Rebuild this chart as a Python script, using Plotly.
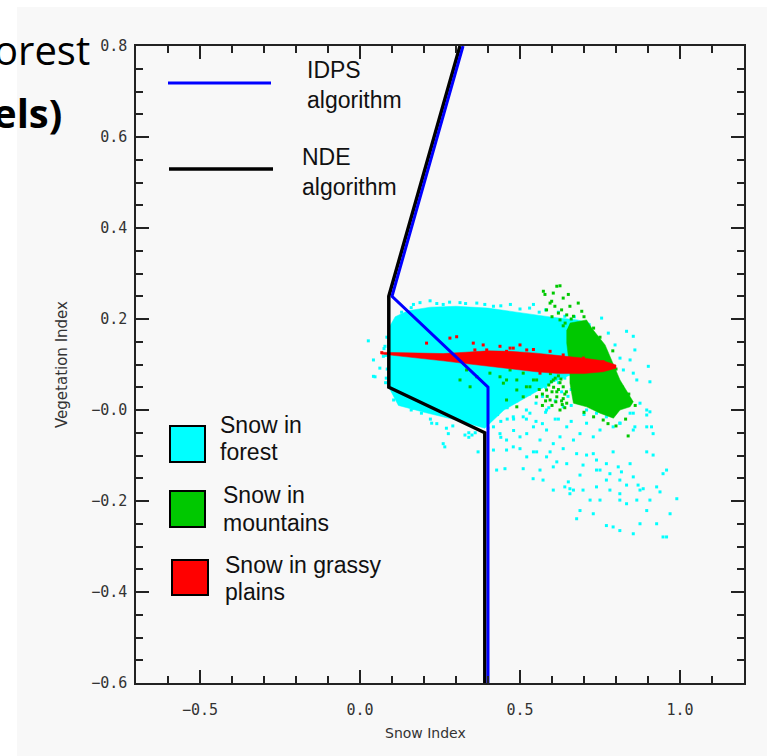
import plotly.graph_objects as go

# ---------------- data ----------------
x_tickvals = [-0.5, 0.0, 0.5, 1.0]
x_ticktext = ["\u22120.5", "0.0", "0.5", "1.0"]
y_tickvals = [0.8, 0.6, 0.4, 0.2, 0.0, -0.2, -0.4, -0.6]
y_ticktext = ["0.8", "0.6", "0.4", "0.2", "\u22120.0", "\u22120.2", "\u22120.4", "\u22120.6"]

# threshold lines
nde_x = [0.39, 0.39, 0.09, 0.09, 0.3125]
nde_y = [-0.6, -0.05, 0.05, 0.25, 0.8]
idps_x = [0.40, 0.40, 0.10, 0.322]
idps_y = [-0.6, 0.05, 0.25, 0.8]

# Snow in forest: dense core outline + scattered points
forest_core_x = [0.09, 0.11, 0.15, 0.22, 0.30, 0.40, 0.50, 0.60, 0.68, 0.72,
                 0.72, 0.65, 0.60, 0.55, 0.50, 0.45, 0.39, 0.30, 0.20, 0.12, 0.09]
forest_core_y = [0.18, 0.205, 0.218, 0.226, 0.228, 0.224, 0.214, 0.204, 0.198, 0.19,
                 0.09, 0.075, 0.06, 0.04, 0.02, 0.0, -0.04, -0.022, -0.005, 0.01, 0.05]
forest_x = [0.105, 0.130, 0.166, 0.192, 0.224, 0.260, 0.265, 0.276, 0.328, 0.369,
            0.427, 0.453, 0.510, 0.541, 0.572, 0.604, 0.640, 0.651, 0.656, 0.667,
            0.6875, 0.697, 0.708, 0.729, 0.739, 0.750, 0.770, 0.781, 0.791, 0.807,
            0.817, 0.844, 0.854, 0.869, 0.875, 0.896, 0.916, 0.927, 0.9375, 0.947,
            0.958, 0.990, 0.969, 0.927, 0.947, 0.958, 0.875, 0.854, 0.812, 0.791,
            0.770, 0.729, 0.719, 0.6875, 0.677, 0.750, 0.812, 0.833, 0.865, 0.906,
            0.896, 0.781, 0.739, 0.656, 0.604, 0.5625, 0.521, 0.542, 0.583, 0.615,
            0.646, 0.697, 0.739, 0.770, 0.812, 0.833, 0.885, 0.812,
            0.417, 0.4375, 0.458, 0.479, 0.500, 0.521, 0.542, 0.5625, 0.583, 0.604,
            0.625, 0.646, 0.667, 0.6875, 0.708, 0.729, 0.750, 0.791, 0.812, 0.854,
            0.896, 0.916, 0.417, 0.458, 0.500, 0.552, 0.594, 0.635, 0.677, 0.4375,
            0.479, 0.531, 0.583, 0.635, 0.6875, 0.708, 0.739, 0.770, 0.854, 0.896, 0.906,
            0.755, 0.776, 0.797, 0.8125, 0.833, 0.854, 0.859, 0.854, 0.865, 0.901,
            0.906, 0.844, 0.823, 0.875, 0.896, 0.844, 0.8125, 0.911, 0.859, 0.781,
            0.026, 0.042, 0.062, 0.042, 0.073, 0.047, 0.075, 0.080,
            0.167, 0.1875, 0.219, 0.260, 0.3125, 0.365, 0.417, 0.542, 0.47, 0.58, 0.62,
            0.36, 0.40, 0.44, 0.48, 0.52, 0.57, 0.61, 0.66, 0.70, 0.34, 0.46, 0.55,
            0.42, 0.44, 0.47, 0.49, 0.51, 0.53, 0.56, 0.58, 0.60, 0.62, 0.64, 0.66,
            0.43, 0.46, 0.48, 0.50, 0.52, 0.55, 0.57, 0.59, 0.61, 0.63, 0.65, 0.68,
            0.41, 0.45, 0.49, 0.53, 0.56, 0.60, 0.64, 0.67, 0.70, 0.72, 0.44, 0.51,
            0.58, 0.62, 0.66, 0.69, 0.47, 0.54,
            0.13, 0.16, 0.24, 0.28, 0.33, 0.39, 0.44, 0.50, 0.53, 0.56, 0.64, 0.67,
            0.084, 0.080, 0.085, 0.078, 0.082, 0.24, 0.29, 0.34, 0.22, 0.16, 0.35, 0.27]
forest_y = [0.022, 0.018, 0.004, -0.007, -0.029, -0.074, -0.081, -0.052, -0.055, -0.092,
            -0.132, -0.129, -0.129, -0.151, -0.154, -0.176, -0.169, -0.158, -0.173, -0.176,
            -0.143, -0.176, -0.099, -0.096, -0.110, -0.132, -0.118, -0.140, -0.092, -0.125,
            -0.136, -0.118, -0.147, -0.165, -0.176, -0.092, -0.099, -0.169, -0.180, -0.140,
            -0.132, -0.195, -0.228, -0.250, -0.279, -0.279, -0.250, -0.272, -0.265, -0.257,
            -0.254, -0.228, -0.198, -0.221, -0.239, -0.198, -0.198, -0.206, -0.198, -0.198,
            -0.221, -0.176, -0.169, -0.184, -0.125, -0.132, -0.103, -0.092, -0.103, -0.114,
            -0.118, -0.121, -0.132, -0.154, -0.154, -0.165, -0.173, -0.184,
            -0.037, -0.052, -0.066, -0.081, -0.059, -0.052, -0.037, -0.066, -0.044, -0.074,
            -0.059, -0.037, -0.066, -0.052, -0.029, -0.059, -0.044, -0.037, -0.029, -0.044,
            -0.037, -0.052, -0.088, -0.088, -0.085, -0.092, -0.092, -0.085, -0.096, 0.000,
            -0.015, -0.007, 0.000, 0.007, 0.015, 0.000, -0.007, -0.015, -0.007, -0.011, -0.004,
            0.202, 0.169, 0.143, 0.114, 0.173, 0.162, 0.132, 0.081, 0.066, 0.096,
            0.062, 0.110, 0.088, 0.015, 0.000, -0.007, -0.029, -0.037, -0.037, 0.000,
            0.152, 0.110, 0.092, 0.074, 0.118, 0.073, 0.135, 0.060,
            0.232, 0.236, 0.240, 0.232, 0.236, 0.235, 0.228, 0.232, 0.232, 0.220, 0.215,
            -0.05, -0.04, -0.06, -0.045, -0.02, -0.03, -0.02, -0.025, -0.01, -0.06, -0.02, -0.025,
            0.01, 0.03, 0.05, 0.02, 0.06, 0.035, 0.07, 0.05, 0.075, 0.06, 0.08, 0.045,
            -0.01, 0.005, -0.02, 0.035, 0.0, 0.015, 0.03, 0.005, 0.02, 0.04, 0.03, 0.06,
            0.045, 0.06, 0.075, 0.07, 0.055, 0.065, 0.07, 0.03, 0.05, 0.02, -0.025, -0.015,
            -0.005, -0.02, 0.01, 0.04, 0.065, 0.06,
            0.215, 0.225, 0.234, 0.237, 0.234, 0.232, 0.229, 0.222, 0.224, 0.215, 0.206, 0.205,
            0.16, 0.12, 0.09, 0.14, 0.07, -0.03, -0.035, -0.05, -0.02, 0.0, -0.055, -0.04]

# Snow in mountains
mount_core_x = [0.656, 0.708, 0.724, 0.766, 0.786, 0.8125, 0.854, 0.844, 0.8125,
                0.792, 0.750, 0.708, 0.667, 0.656, 0.656, 0.646, 0.646]
mount_core_y = [0.191, 0.198, 0.180, 0.143, 0.110, 0.066, 0.018, 0.007, 0.000,
                -0.018, -0.007, 0.007, 0.015, 0.059, 0.088, 0.147, 0.176]
mount_x = [0.573, 0.578, 0.604, 0.615, 0.625, 0.599, 0.635, 0.651, 0.609, 0.594,
           0.630, 0.656, 0.682, 0.620, 0.646, 0.667, 0.583, 0.693, 0.625, 0.641,
           0.600, 0.635, 0.660, 0.700,
           0.333, 0.365, 0.406, 0.448, 0.469, 0.490, 0.510, 0.531, 0.552, 0.573,
           0.583, 0.604, 0.615, 0.635, 0.552, 0.594, 0.646, 0.625, 0.510, 0.458,
           0.490, 0.3125, 0.344, 0.4375, 0.458, 0.520, 0.542, 0.490, 0.600, 0.620,
           0.570, 0.640, 0.595, 0.560,
           0.838, 0.760, 0.800, 0.730, 0.700, 0.830, 0.775,
           0.860, 0.840, 0.820, 0.800, 0.790, 0.750, 0.730,
           0.630, 0.615, 0.600, 0.585, 0.625, 0.610, 0.640, 0.590, 0.570, 0.635,
           0.620, 0.605, 0.645, 0.632, 0.612, 0.598, 0.580, 0.628]
mount_y = [0.261, 0.254, 0.257, 0.272, 0.273, 0.239, 0.246, 0.254, 0.228, 0.235,
           0.220, 0.228, 0.235, 0.213, 0.209, 0.206, 0.220, 0.217, 0.198, 0.191,
           0.205, 0.185, 0.200, 0.205,
           0.088, 0.073, 0.081, 0.059, 0.088, 0.066, 0.081, 0.051, 0.066, 0.088,
           0.044, 0.066, 0.029, 0.051, 0.029, 0.022, 0.015, 0.000, 0.029, 0.022,
           0.007, 0.066, 0.051, 0.073, 0.066, 0.051, 0.066, 0.044, 0.040, 0.075,
           0.010, 0.035, 0.080, 0.045,
           -0.057, -0.022, -0.035, -0.015, -0.005, -0.020, -0.030,
           0.010, 0.035, 0.050, 0.090, 0.130, 0.160, 0.180,
           0.020, 0.040, 0.010, 0.030, 0.060, 0.070, 0.005, 0.055, 0.035, 0.025,
           0.045, 0.050, 0.040, 0.012, 0.018, 0.062, 0.020, 0.068]

# Snow in grassy plains
plains_core_x = [0.066, 0.12, 0.19, 0.26, 0.33, 0.40, 0.47, 0.55, 0.63, 0.70, 0.76, 0.80,
                 0.80, 0.76, 0.70, 0.62, 0.55, 0.47, 0.40, 0.33, 0.26, 0.19, 0.12, 0.066]
plains_core_y = [0.127, 0.126, 0.125, 0.124, 0.127, 0.130, 0.129, 0.125, 0.119, 0.114, 0.108, 0.099,
                 0.092, 0.084, 0.080, 0.080, 0.084, 0.090, 0.096, 0.102, 0.108, 0.113, 0.119, 0.123]
plains_x = [0.068, 0.208, 0.281, 0.302, 0.354, 0.359, 0.385, 0.396, 0.4375, 0.458,
            0.469, 0.479, 0.500, 0.521, 0.542, 0.594, 0.635, 0.698, 0.760, 0.5625]
plains_y = [0.126, 0.147, 0.158, 0.161, 0.147, 0.132, 0.143, 0.132, 0.140, 0.129,
            0.136, 0.136, 0.143, 0.132, 0.133, 0.129, 0.121, 0.114, 0.106, 0.081]

# ---------------- figure ----------------
CYAN, GREEN, RED, BLUE = "#00ffff", "#00c800", "#ff0000", "#0000ff"
BG = "#f8f8f8"
L, R, T, B = 136, 744, 46, 683
W, H = R - L, B - T


def pxx(x):
    return (x - L) / W


def pxy(y):
    return (B - y) / H


fig = go.Figure()


def core(xs, ys, color):
    fig.add_trace(go.Scatter(x=xs, y=ys, mode="lines", fill="toself", fillcolor=color,
                             line=dict(width=0.5, color=color), hoverinfo="skip",
                             showlegend=False))


def dots(xs, ys, color):
    fig.add_trace(go.Scatter(x=xs, y=ys, mode="markers",
                             marker=dict(symbol="square", size=3, color=color,
                                         line=dict(width=0)),
                             showlegend=False))


core(forest_core_x, forest_core_y, CYAN)
dots(forest_x, forest_y, CYAN)
core(mount_core_x, mount_core_y, GREEN)
dots(mount_x, mount_y, GREEN)
core(plains_core_x, plains_core_y, RED)
dots(plains_x, plains_y, RED)

fig.add_trace(go.Scatter(x=nde_x, y=nde_y, mode="lines",
                         line=dict(color="black", width=3.5), showlegend=False))
fig.add_trace(go.Scatter(x=idps_x, y=idps_y, mode="lines",
                         line=dict(color=BLUE, width=3), showlegend=False))

shapes = [
    dict(type="rect", xref="paper", yref="paper", x0=pxx(17), x1=pxx(767),
         y0=pxy(756), y1=pxy(7), fillcolor=BG, line=dict(width=0), layer="below"),
    dict(type="line", xref="paper", yref="paper", x0=pxx(168), x1=pxx(271),
         y0=pxy(83), y1=pxy(83), line=dict(color=BLUE, width=3)),
    dict(type="line", xref="paper", yref="paper", x0=pxx(169), x1=pxx(273),
         y0=pxy(169), y1=pxy(169), line=dict(color="black", width=3.5)),
]
for (x0, x1, y0, y1, c) in [(170, 205, 426, 462, CYAN), (170, 205, 491, 527, GREEN),
                            (172, 208, 560, 595, RED)]:
    shapes.append(dict(type="rect", xref="paper", yref="paper", x0=pxx(x0), x1=pxx(x1),
                       y0=pxy(y1), y1=pxy(y0), fillcolor=c,
                       line=dict(color="black", width=2)))

annotations = []
legend_font = dict(family="Liberation Sans, Arial", size=23, color="#111")
for text, x, base in [("IDPS", 306, 78), ("algorithm", 306, 108),
                      ("NDE", 301, 165), ("algorithm", 301, 195),
                      ("Snow in", 219, 433), ("forest", 219, 460),
                      ("Snow in", 222, 503), ("mountains", 222, 531),
                      ("Snow in grassy", 224, 573), ("plains", 224, 600)]:
    annotations.append(dict(text=text, xref="paper", yref="paper", x=pxx(x),
                            y=pxy(base - 8), xanchor="left", yanchor="middle",
                            showarrow=False, font=legend_font, borderpad=0))

annotations += [
    dict(text="orest", xref="paper", yref="paper", x=pxx(91), y=pxy(49),
         xanchor="right", yanchor="middle", showarrow=False, borderpad=0,
         font=dict(family="Open Sans", size=40, color="black")),
    dict(text="<b>els)</b>", xref="paper", yref="paper", x=pxx(63), y=pxy(112),
         xanchor="right", yanchor="middle", showarrow=False, borderpad=0,
         font=dict(family="Open Sans", size=40, color="black")),
    dict(text="Snow Index", xref="paper", yref="paper", x=pxx(425), y=pxy(733),
         xanchor="center", yanchor="middle", showarrow=False,
         font=dict(family="DejaVu Sans", size=14, color="#333")),
    dict(text="Vegetation Index", xref="paper", yref="paper", x=pxx(62), y=pxy(365),
         xanchor="center", yanchor="middle", showarrow=False, textangle=-90,
         font=dict(family="DejaVu Sans", size=15, color="#333")),
]

tick_font = dict(family="DejaVu Sans Mono", size=15, color="#333")
axis_common = dict(showgrid=False, zeroline=False, showline=True, linecolor="#222",
                   linewidth=1.5, mirror="allticks", ticks="inside", ticklen=13,
                   tickwidth=1.5, tickcolor="#222", tickmode="array", tickfont=tick_font)

fig.update_layout(
    width=767, height=756, autosize=False,
    margin=dict(l=L, r=767 - R, t=T, b=756 - B),
    paper_bgcolor="white", plot_bgcolor=BG,
    xaxis=dict(range=[-0.7, 1.2], tickvals=x_tickvals, ticktext=x_ticktext,
               ticklabelstandoff=12,
               minor=dict(tickmode="linear", tick0=0, dtick=0.1, ticks="inside",
                          ticklen=7, tickwidth=1.5, tickcolor="#222", showgrid=False),
               **axis_common),
    yaxis=dict(range=[-0.6, 0.8], tickvals=y_tickvals, ticktext=y_ticktext,
               ticklabelstandoff=4,
               minor=dict(tickmode="linear", tick0=0, dtick=0.05, ticks="inside",
                          ticklen=7, tickwidth=1.5, tickcolor="#222", showgrid=False),
               **axis_common),
    shapes=shapes, annotations=annotations, showlegend=False,
)

fig.write_html("out.html", config={"displayModeBar": False},
               post_script="document.body.style.margin='0';document.body.style.overflow='hidden';")
